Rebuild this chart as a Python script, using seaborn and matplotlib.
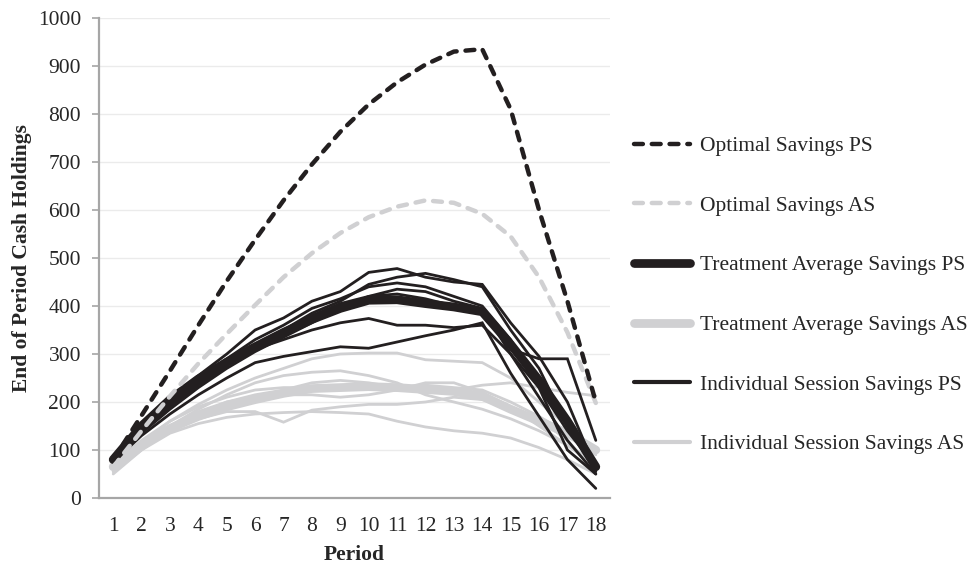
import matplotlib
matplotlib.use("Agg")
import matplotlib.pyplot as plt
import seaborn as sns
import numpy as np
from matplotlib.lines import Line2D

periods = list(range(1, 19))

optimal_ps = [80, 172, 265, 360, 452, 538, 620, 695, 763, 820, 866, 903, 930, 935, 810, 600, 410, 200]
optimal_as = [65, 140, 212, 280, 342, 402, 460, 510, 552, 585, 607, 620, 615, 592, 545, 460, 345, 198]
avg_ps = [80, 150, 205, 248, 283, 315, 345, 372, 395, 412, 413, 405, 398, 388, 320, 245, 160, 65]
avg_as = [65, 110, 145, 170, 190, 205, 218, 228, 230, 232, 230, 226, 222, 212, 185, 160, 135, 100]

indiv_ps = [
    [85, 150, 205, 255, 300, 350, 375, 410, 430, 470, 478, 460, 450, 445, 365, 295, 200, 60],
    [80, 140, 195, 240, 280, 320, 350, 385, 410, 445, 460, 468, 455, 440, 350, 270, 150, 55],
    [78, 135, 185, 230, 270, 305, 335, 365, 395, 420, 435, 430, 410, 395, 300, 210, 120, 50],
    [82, 145, 200, 245, 285, 310, 330, 350, 365, 374, 360, 360, 355, 360, 300, 230, 140, 65],
    [75, 130, 175, 215, 250, 282, 295, 305, 315, 312, 325, 338, 350, 365, 260, 170, 80, 20],
    [80, 140, 190, 235, 275, 315, 345, 380, 405, 420, 425, 415, 400, 385, 310, 290, 290, 120],
    [85, 150, 205, 250, 290, 330, 360, 395, 415, 440, 448, 440, 420, 400, 330, 230, 100, 50],
]
indiv_as = [
    [60, 115, 160, 195, 225, 250, 270, 290, 300, 302, 302, 288, 285, 282, 250, 200, 150, 95],
    [55, 105, 150, 185, 215, 240, 255, 262, 265, 255, 240, 215, 200, 185, 165, 140, 110, 75],
    [50, 100, 145, 175, 200, 215, 225, 240, 245, 240, 230, 220, 225, 235, 240, 230, 220, 213],
    [65, 110, 145, 165, 180, 180, 158, 183, 190, 195, 195, 200, 210, 205, 190, 165, 120, 55],
    [55, 100, 135, 155, 168, 175, 178, 180, 178, 175, 160, 148, 140, 135, 125, 105, 80, 50],
    [70, 120, 160, 190, 210, 225, 230, 230, 232, 232, 230, 235, 230, 225, 200, 170, 135, 90],
    [62, 112, 150, 180, 200, 210, 215, 215, 210, 215, 225, 240, 240, 220, 190, 150, 110, 65],
]

labels = ["Optimal Savings PS", "Optimal Savings AS", "Treatment Average Savings PS",
          "Treatment Average Savings AS", "Individual Session Savings PS",
          "Individual Session Savings AS"]
yticks = list(range(0, 1001, 100))

sns.set_style("white")
plt.rcParams["font.family"] = ["Liberation Serif", "DejaVu Serif"]

BLACK = "#231f20"
GRAY = "#d0d0d2"
DASH = (0, (2.0, 2.0))

fig = plt.figure(figsize=(9.74, 5.65), dpi=100)
ax = fig.add_axes([99 / 974, 1 - 498 / 565, (610 - 99) / 974, (498 - 18) / 565])

for ys in indiv_as:
    sns.lineplot(x=periods, y=ys, ax=ax, color=GRAY, linewidth=2.0, legend=False,
                 solid_joinstyle="miter", zorder=2)
sns.lineplot(x=periods, y=avg_as, ax=ax, color=GRAY, linewidth=6.3, legend=False,
             solid_capstyle="round", solid_joinstyle="round", zorder=3)
for ys in indiv_ps:
    sns.lineplot(x=periods, y=ys, ax=ax, color=BLACK, linewidth=2.0, legend=False,
                 solid_joinstyle="miter", zorder=4)
sns.lineplot(x=periods, y=avg_ps, ax=ax, color=BLACK, linewidth=6.3, legend=False,
             solid_capstyle="round", solid_joinstyle="round", zorder=5)
sns.lineplot(x=periods, y=optimal_as, ax=ax, color=GRAY, linewidth=3.2, legend=False,
             linestyle=DASH, dash_capstyle="round", zorder=6)
sns.lineplot(x=periods, y=optimal_ps, ax=ax, color=BLACK, linewidth=3.2, legend=False,
             linestyle=DASH, dash_capstyle="round", zorder=7)

ax.set_xlim(0.5, 18.5)
ax.set_ylim(0, 1000)
ax.set_yticks(yticks)
ax.set_yticklabels([str(v) for v in yticks], fontsize=15.5)
ax.set_xticks(np.arange(0.5, 18.6, 1.0))
ax.set_xticklabels([])
ax.set_xticks(periods, minor=True)
ax.set_xticklabels([str(p) for p in periods], minor=True, fontsize=15.5)
ax.tick_params(axis="x", which="major", direction="out", length=5, width=1.2, color="#a6a6a6")
ax.tick_params(axis="x", which="minor", length=0, pad=14)
ax.tick_params(axis="y", direction="out", length=5, width=1.2, color="#a6a6a6", pad=8,
               left=True)

ax.grid(axis="y", color="#ebebeb", linewidth=1.0, zorder=0)
ax.set_axisbelow(True)
for s in ["top", "right"]:
    ax.spines[s].set_visible(False)
for s in ["left", "bottom"]:
    ax.spines[s].set_color("#a6a6a6")
    ax.spines[s].set_linewidth(1.6)

ax.set_xlabel("Period", fontsize=15.5, fontweight="bold", labelpad=6)
ax.set_ylabel("End of Period Cash Holdings", fontsize=15.5, fontweight="bold", labelpad=4)

handles = [
    Line2D([], [], color=BLACK, linewidth=3.2, linestyle=DASH, dash_capstyle="round"),
    Line2D([], [], color=GRAY, linewidth=3.2, linestyle=DASH, dash_capstyle="round"),
    Line2D([], [], color=BLACK, linewidth=6.3, solid_capstyle="round"),
    Line2D([], [], color=GRAY, linewidth=6.3, solid_capstyle="round"),
    Line2D([], [], color=BLACK, linewidth=3.0),
    Line2D([], [], color=GRAY, linewidth=3.0),
]
fig.legend(handles, labels, loc="upper left", bbox_to_anchor=(634 / 974, 1 - 136 / 565),
           frameon=False, fontsize=15.5, handlelength=2.6, handletextpad=0.45,
           labelspacing=1.84, borderpad=0, borderaxespad=0)

fig.savefig("out.png", dpi=100)
